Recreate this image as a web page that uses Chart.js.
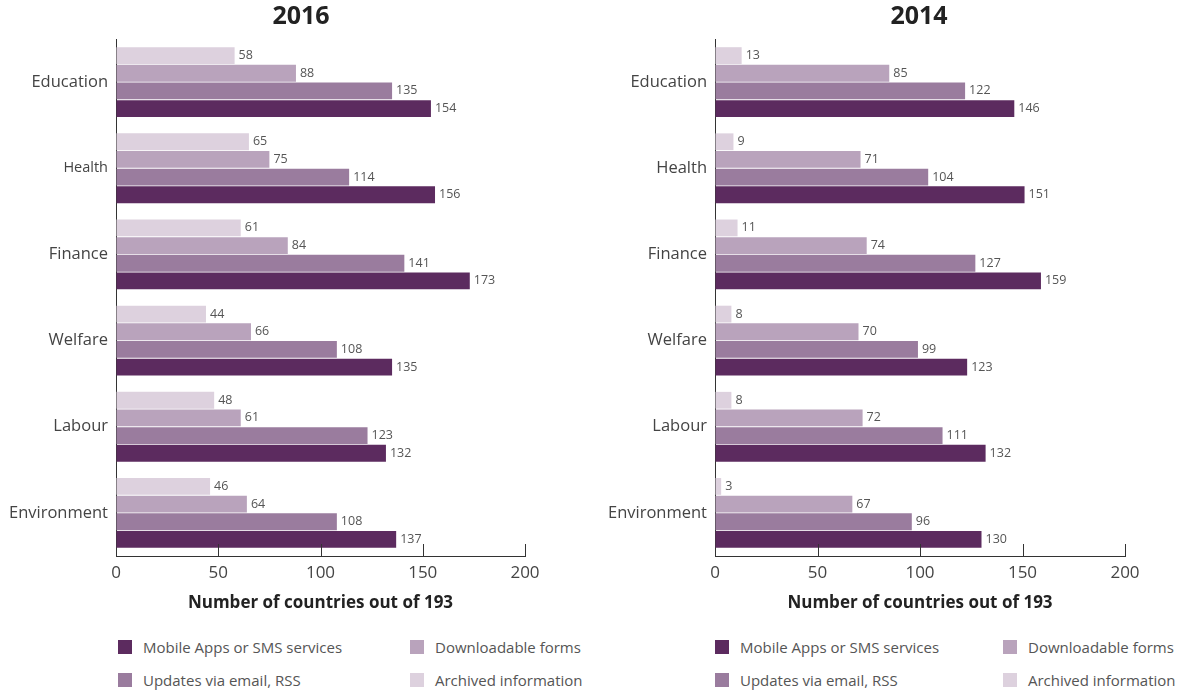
<!DOCTYPE html>
<html>
<head>
<meta charset="utf-8">
<script src="https://cdn.jsdelivr.net/npm/chart.js@4.4.0/dist/chart.umd.min.js"></script>
<style>
  body { margin: 0; background: #fff; width: 1188px; height: 695px; overflow: hidden; position: relative; font-family: "Open Sans", sans-serif; }
  .box { position: absolute; top: 0; }
  .leg { position: absolute; font-size: 15px; color: #555; display: flex; align-items: center; white-space: nowrap; }
  .leg span { display: inline-block; width: 14px; height: 14px; margin-right: 11px; }
</style>
</head>
<body>
<div class="box" style="left:0"><canvas id="c2016" width="594" height="620"></canvas></div>
<div class="box" style="left:599px"><canvas id="c2014" width="589" height="620"></canvas></div>
<div id="legends"></div>
<script>
const categories = ["Education", "Health", "Finance", "Welfare", "Labour", "Environment"];
const seriesNames = ["Archived information", "Downloadable forms", "Updates via email, RSS", "Mobile Apps or SMS services"];
const seriesColors = ["#ddd1de", "#b9a3bc", "#9a7c9e", "#5c2b5f"];
const xTicks = [0, 50, 100, 150, 200];

// 2016
const archived2016 = [58, 65, 61, 44, 48, 46];
const forms2016 = [88, 75, 84, 66, 61, 64];
const updates2016 = [135, 114, 141, 108, 123, 108];
const mobile2016 = [154, 156, 173, 135, 132, 137];

// 2014
const archived2014 = [13, 9, 11, 8, 8, 3];
const forms2014 = [85, 71, 74, 70, 72, 67];
const updates2014 = [122, 104, 127, 99, 111, 96];
const mobile2014 = [146, 151, 159, 123, 132, 130];

const FONT = '"Open Sans", sans-serif';

const extras = {
  id: "extras",
  afterDatasetsDraw(chart, args, opts) {
    const ctx = chart.ctx;
    ctx.save();
    ctx.font = "12.5px " + FONT;
    ctx.fillStyle = "#555";
    ctx.textBaseline = "middle";
    chart.data.datasets.forEach((ds, i) => {
      chart.getDatasetMeta(i).data.forEach((bar, j) => {
        ctx.fillText(ds.data[j], bar.x + 4, bar.y);
      });
    });
    // x axis ticks point up into the plot
    const xs = chart.scales.x;
    const b = chart.chartArea.bottom;
    ctx.strokeStyle = "#333";
    ctx.lineWidth = 1;
    xs.ticks.forEach((t, k) => {
      if (k === 0) return;
      const px = Math.round(xs.getPixelForValue(t.value)) + 0.5;
      ctx.beginPath();
      ctx.moveTo(px, b);
      ctx.lineTo(px, b - 12);
      ctx.stroke();
    });
    // panel title
    ctx.font = "bold 25px " + FONT;
    ctx.fillStyle = "#222";
    ctx.textAlign = "center";
    ctx.fillText(opts.text, opts.x, 17);
    ctx.restore();
  }
};

function makeChart(id, title, titleX, series, rightPad, smallHealth) {
  return new Chart(document.getElementById(id), {
    type: "bar",
    data: {
      labels: categories,
      datasets: series.map((d, i) => ({
        label: seriesNames[i],
        data: d,
        backgroundColor: seriesColors[i],
        borderWidth: 0,
        barPercentage: 0.95,
        categoryPercentage: 0.82
      }))
    },
    options: {
      indexAxis: "y",
      responsive: false,
      animation: false,
      devicePixelRatio: 1,
      layout: { padding: { right: rightPad, top: 39, bottom: 0, left: 0 } },
      plugins: {
        legend: { display: false },
        tooltip: { enabled: false },
        title: { display: false },
        extras: { text: title, x: titleX }
      },
      scales: {
        x: {
          min: 0,
          max: 200,
          afterBuildTicks: s => { s.ticks = xTicks.map(v => ({ value: v })); },
          afterFit: s => { s.height = 64; },
          grid: { drawOnChartArea: false, drawTicks: false },
          border: { color: "#333", width: 1 },
          ticks: { color: "#444", padding: 7, font: { family: FONT, size: 17 } },
          title: {
            display: true,
            text: "Number of countries out of 193",
            color: "#222",
            font: { family: FONT, size: 17, weight: "bold" },
            padding: { top: 0, bottom: 7 }
          }
        },
        y: {
          afterFit: s => { s.width = 116; },
          grid: { drawOnChartArea: false, drawTicks: false },
          border: { color: "#333", width: 1 },
          ticks: {
            color: "#444",
            padding: 8,
            font: c => ({ family: FONT, size: (smallHealth && c.index === 1) ? 14.5 : 16.5 })
          }
        }
      }
    },
    plugins: [extras]
  });
}

makeChart("c2016", "2016", 301, [archived2016, forms2016, updates2016, mobile2016], 69, true);
makeChart("c2014", "2014", 320, [archived2014, forms2014, updates2014, mobile2014], 63, false);

// legends: two columns, Mobile / Downloadable on the first row
const legendOrder = [3, 1, 2, 0];
const legendSpots = [
  { cols: [118, 410] },
  { cols: [715, 1003] }
];
const rows = [647, 680];
const holder = document.getElementById("legends");
legendSpots.forEach(spot => {
  legendOrder.forEach((si, k) => {
    const el = document.createElement("div");
    el.className = "leg";
    el.style.left = spot.cols[k % 2] + "px";
    el.style.top = (rows[Math.floor(k / 2)] - 10) + "px";
    el.style.height = "20px";
    el.innerHTML = '<span style="background:' + seriesColors[si] + '"></span>' + seriesNames[si];
    holder.appendChild(el);
  });
});
</script>
</body>
</html>
